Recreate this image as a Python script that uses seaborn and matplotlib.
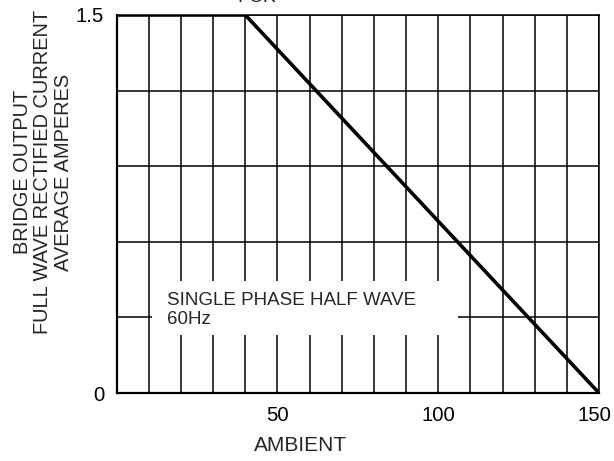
import matplotlib
matplotlib.use('Agg')
import matplotlib.pyplot as plt
import matplotlib.transforms as mtransforms
import seaborn as sns
import pandas as pd
from matplotlib.patches import Rectangle

# derating curve
ambient = [0, 40, 150]
current = [1.5, 1.5, 0]

x_grid = list(range(0, 151, 10))
x_labels = ['50', '100', '150']
y_grid = [0, 0.3, 0.6, 0.9, 1.2, 1.5]
y_labels = ['0', '1.5']

ylabel_lines = ['BRIDGE OUTPUT', 'FULL WAVE RECTIFIED CURRENT', 'AVERAGE AMPERES']
note_lines = ['SINGLE PHASE HALF WAVE', '60Hz']

sns.set_style('white')
plt.rcParams['font.family'] = ['Liberation Sans', 'DejaVu Sans']

df = pd.DataFrame({'ambient': ambient, 'current': current})

fig = plt.figure(figsize=(6.14, 4.61), dpi=100)
ax = fig.add_axes([0.190, 0.1475, 0.7856, 0.82])

# grid
ax.set_xticks(x_grid)
ax.set_xticklabels([str(v) if str(v) in x_labels else '' for v in x_grid])
ax.set_yticks(y_grid)
ax.set_yticklabels([('%g' % v) if ('%g' % v) in y_labels else '' for v in y_grid])
ax.grid(True, color='black', linewidth=1.1, zorder=1)
ax.set_axisbelow(True)
ax.tick_params(length=0, labelsize=14.7, colors='black')
ax.tick_params(axis='x', pad=9)
ax.tick_params(axis='y', pad=9)

# last x label sits a little left of the corner so it stays inside
last = ax.get_xticklabels()[-1]
last.set_transform(last.get_transform() +
                   mtransforms.ScaledTranslation(-5 / 100, 0, fig.dpi_scale_trans))

# white box behind the note
ax.add_patch(Rectangle((0.073, 0.154), 0.634, 0.142, transform=ax.transAxes,
                       facecolor='white', edgecolor='none', zorder=2))
ax.text(0.104, 0.22, '\n'.join(note_lines), transform=ax.transAxes,
        fontsize=13.5, ha='left', va='center', linespacing=1.2, zorder=3)

sns.lineplot(data=df, x='ambient', y='current', color='black', linewidth=2.6,
             ax=ax, zorder=4, solid_capstyle='butt')

ax.set_xlim(0, 150)
ax.set_ylim(0, 1.5)
for name, s in ax.spines.items():
    s.set_color('black')
    s.set_linewidth(1.6 if name in ('left', 'bottom') else 1.1)

ax.set_xlabel('AMBIENT', fontsize=15)
ax.xaxis.set_label_coords(0.382, -0.113)
ax.set_ylabel('')
fig.text(43 / 614, 1 - 172 / 461, '\n'.join(ylabel_lines), rotation=90,
         ha='center', va='center', multialignment='center', fontsize=14.4,
         linespacing=1.08)

# title text cut off at the top edge of the original picture
fig.text(0.419, 1 - 2 / 461, 'FCK', ha='center', va='baseline', fontsize=14)

fig.savefig('out.png', dpi=100)
